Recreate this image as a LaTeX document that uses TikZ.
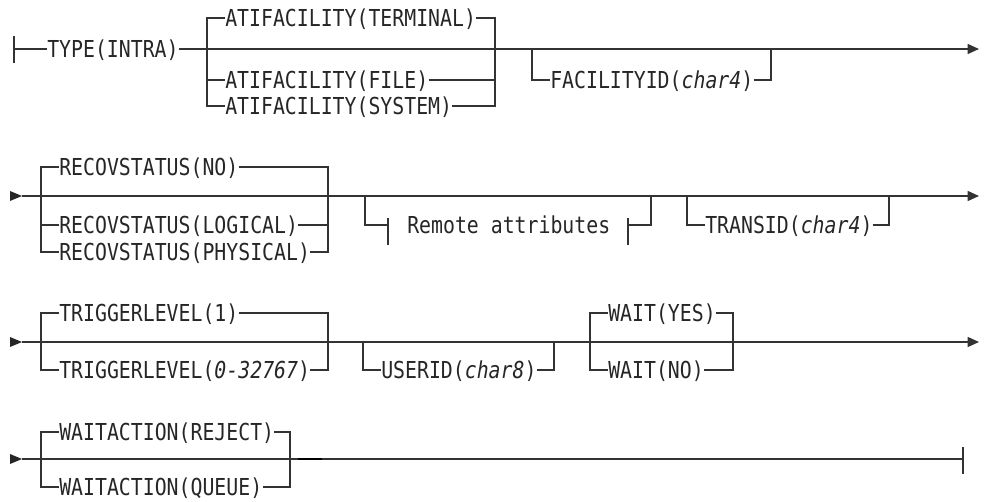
\documentclass[tikz,border=0pt]{standalone}
\usepackage{fontspec}
\setmonofont[FakeStretch=0.85]{DejaVu Sans Mono}
\usetikzlibrary{arrows.meta}

\tikzset{
  rail/.style={line width=1pt, draw=black!80},
  kw/.style={anchor=base west, inner sep=0pt, text=black!85,
    font=\ttfamily\fontsize{17.5}{20}\selectfont},
  tip/.style={-{Triangle[length=8.5pt, width=7.5pt]}},
}

\begin{document}
\begin{tikzpicture}[x=0.75pt, y=-0.75pt]
        % Parameters
        \def\bs{8.5}
        \def\rA{49}
        \def\rB{196}
        \def\rC{342}
        \def\rD{459}

        \useasboundingbox (0,0) rectangle (991,502);

        % Row 1: TYPE, ATIFACILITY, FACILITYID
        \coordinate (m1) at (0,\rA);
        \draw[rail] (14,\rA-13) -- (14,\rA+14);
        \node[kw] (type) at (47,\rA+\bs) {TYPE(INTRA)};
        \draw[rail] (14,\rA) -- (type.west |- m1);
        \draw[rail, tip] (type.east |- m1) -- (979,\rA);

        \node[kw] (atiTerm) at (225,18+\bs) {ATIFACILITY(TERMINAL)};
        \node[kw] (atiFile) at (225,80+\bs) {ATIFACILITY(FILE)};
        \node[kw] (atiSys) at (225,106+\bs) {ATIFACILITY(SYSTEM)};
        \draw[rail] (atiTerm.west |- 0,18) -- (207,18) -- (207,106) -- (atiSys.west |- 0,106);
        \draw[rail] (207,80) -- (atiFile.west |- 0,80);
        \draw[rail] (atiTerm.east |- 0,18) -- (495,18) -- (495,106) -- (atiSys.east |- 0,106);
        \draw[rail] (atiFile.east |- 0,80) -- (495,80);

        \node[kw] (facId) at (550,80+\bs) {FACILITYID(\textit{char4})};
        \draw[rail] (532,\rA) -- (532,80) -- (facId.west |- 0,80);
        \draw[rail] (facId.east |- 0,80) -- (771,80) -- (771,\rA);

        % Row 2: RECOVSTATUS, Remote attributes, TRANSID
        \coordinate (m2) at (0,\rB);
        \fill[black!85] (10,\rB-5) -- (22,\rB) -- (10,\rB+5) -- cycle;
        \draw[rail, tip] (22,\rB) -- (979,\rB);

        \node[kw] (recNo) at (59,167+\bs) {RECOVSTATUS(NO)};
        \node[kw] (recLog) at (59,225+\bs) {RECOVSTATUS(LOGICAL)};
        \node[kw] (recPhys) at (59,252+\bs) {RECOVSTATUS(PHYSICAL)};
        \draw[rail] (recNo.west |- 0,167) -- (41,167) -- (41,252) -- (recPhys.west |- 0,252);
        \draw[rail] (41,225) -- (recLog.west |- 0,225);
        \draw[rail] (recNo.east |- 0,167) -- (328,167) -- (328,252) -- (recPhys.east |- 0,252);
        \draw[rail] (recLog.east |- 0,225) -- (328,225);

        \node[kw] (remote) at (407,225+\bs) {Remote attributes};
        \draw[rail] (365,\rB) -- (365,225) -- (388,225);
        \draw[rail] (388,218) -- (388,245);
        \draw[rail] (628,218) -- (628,245);
        \draw[rail] (628,225) -- (651,225) -- (651,\rB);

        \node[kw] (transId) at (705,225+\bs) {TRANSID(\textit{char4})};
        \draw[rail] (687,\rB) -- (687,225) -- (transId.west |- 0,225);
        \draw[rail] (transId.east |- 0,225) -- (889,225) -- (889,\rB);

        % Row 3: TRIGGERLEVEL, USERID, WAIT
        \fill[black!85] (10,\rC-5) -- (22,\rC) -- (10,\rC+5) -- cycle;
        \draw[rail, tip] (22,\rC) -- (979,\rC);

        \node[kw] (trigOne) at (59,313+\bs) {TRIGGERLEVEL(1)};
        \node[kw] (trigNum) at (59,370+\bs) {TRIGGERLEVEL(\textit{0-32767})};
        \draw[rail] (trigOne.west |- 0,313) -- (41,313) -- (41,370) -- (trigNum.west |- 0,370);
        \draw[rail] (trigOne.east |- 0,313) -- (328,313) -- (328,370) -- (trigNum.east |- 0,370);

        \node[kw] (userId) at (381,370+\bs) {USERID(\textit{char8})};
        \draw[rail] (363,\rC) -- (363,370) -- (userId.west |- 0,370);
        \draw[rail] (userId.east |- 0,370) -- (554,370) -- (554,\rC);

        \node[kw] (waitYes) at (608,313+\bs) {WAIT(YES)};
        \node[kw] (waitNo) at (608,370+\bs) {WAIT(NO)};
        \draw[rail] (waitYes.west |- 0,313) -- (590,313) -- (590,370) -- (waitNo.west |- 0,370);
        \draw[rail] (waitYes.east |- 0,313) -- (733,313) -- (733,370) -- (waitNo.east |- 0,370);

        % Row 4: WAITACTION and end
        \fill[black!85] (10,\rD-5) -- (22,\rD) -- (10,\rD+5) -- cycle;
        \draw[rail] (22,\rD) -- (963,\rD);
        \draw[rail] (963,\rD-12) -- (963,\rD+15);

        \node[kw] (actRej) at (59,432+\bs) {WAITACTION(REJECT)};
        \node[kw] (actQue) at (59,487+\bs) {WAITACTION(QUEUE)};
        \draw[rail] (actRej.west |- 0,432) -- (41,432) -- (41,487) -- (actQue.west |- 0,487);
        \draw[rail] (actRej.east |- 0,432) -- (290,432) -- (290,487) -- (actQue.east |- 0,487);
        \draw[line width=2.2pt, black] (298,\rD) -- (322,\rD);
    \end{tikzpicture}
\end{document}
